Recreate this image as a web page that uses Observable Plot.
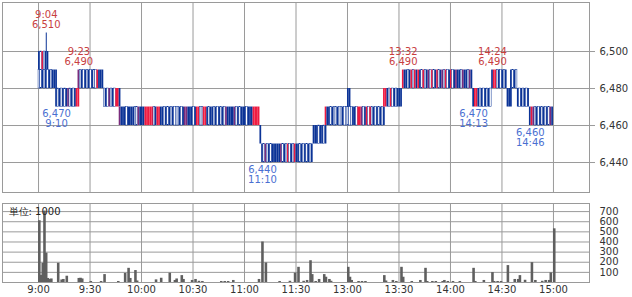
<!DOCTYPE html>
<html><head><meta charset="utf-8">
<script src="https://cdn.jsdelivr.net/npm/d3@7"></script>
<script src="https://cdn.jsdelivr.net/npm/@observablehq/plot@0.6"></script>
<style>
body{margin:0;background:#fff;font-family:"DejaVu Sans",sans-serif;}
#chart svg{display:block;}
</style></head><body><div id="chart"></div>
<script>
// x = trading minutes since 9:00 (lunch break 11:30-12:30 removed)
const tickMinutes = [0, 30, 60, 90, 120, 150, 180, 210, 240, 270, 300];
const tickLabels = ["9:00", "9:30", "10:00", "10:30", "11:00", "11:30", "13:00", "13:30", "14:00", "14:30", "15:00"];
const priceTicks = [6440, 6460, 6480, 6500];
const volTicks = [100, 200, 300, 400, 500, 600, 700];

// price cells: segment start minute, 10-yen band low, one colour code per minute
// b = blue, r = red, p = purple, w = white (outlined)
const segStart = [0, 0, 10, 23, 38, 47, 129, 130, 160, 167, 180, 201, 212, 253, 264, 273, 275, 279, 286];
const segBand  = [6490, 6480, 6470, 6480, 6470, 6460, 6450, 6440, 6450, 6460, 6470, 6470, 6480, 6470, 6480, 6470, 6480, 6470, 6460];
const segColors = [
  "bwrwbb",
  "wwbwbwbwbbb",
  "bwbwbwbpwbwbrr",
  "pwbwbwbwbwwrbbb",
  "wbwpwbwrrb",
  "pbbbwbbbbwwpbbbrrrrrwbrrbbwbwbwbwwwbwbppbbbwbrrwwrrbwbb" + "wbwbwbwpbbbbpwbwbbbwbbbrrrr",
  "b",
  "bwpwbwbbbbbpwbwrwbwrbbwbwbwbwb",
  "bbbwbbwb",
  "rbbwbwwbwwbwwwwwbbwrrpwbrwrwbwbwbwb",
  "bb",
  "rrbwrwbwbbb",
  "rbbwbrwrbrbwrwbpwrwbrwbpwrwbrwbpbbwpbbwpb",
  "brrbwbwbwbw",
  "brrwbwbwb",
  "bbb",
  "bwbw",
  "bwbwbwb",
  "brpwbwbwbwbwpb"
];

const wickMin = [4], wickLow = [6500], wickHigh = [6510];

const highMin = [4, 23, 212, 264];
const highTime = ["9:04", "9:23", "13:32", "14:24"];
const highPrice = [6510, 6490, 6490, 6490];
const lowMin = [10, 130, 253, 286];
const lowTime = ["9:10", "11:10", "14:13", "14:46"];
const lowPrice = [6470, 6440, 6470, 6460];

// volume (unit: 1000 shares) per minute
const volMin = [0,1,2,3,4,5,6,7,11,13,14,16,23,24,25,30,36,38,46,50,52,53,56,57,68,71,76,79,80,83,84,89,91,93,95,106,108,110,113,128,130,132,140,146,149,151,154,156,158,159,161,163,166,167,169,170,180,181,182,186,188,190,201,202,206,208,211,212,217,222,225,226,229,231,235,236,238,241,245,253,254,259,264,265,267,269,273,277,279,280,283,287,289,293,295,297,298,300];
const volVal = [610,70,190,705,290,40,30,35,190,25,30,62,40,42,35,10,10,78,10,90,140,40,118,15,26,42,92,20,35,68,30,20,30,12,10,10,10,10,20,30,400,193,10,12,92,150,12,20,215,78,10,30,78,52,30,12,150,52,20,10,10,10,68,15,20,10,150,52,10,20,140,10,10,10,10,20,10,10,10,140,10,20,98,10,10,10,167,30,30,68,22,196,20,12,20,20,95,530];

const colorMap = {b: "#0b3396", r: "#ee1a40", p: "#7a2c7c", w: "#ffffff"};
const BLUE = "#0b3396";

const cells = [];
segStart.forEach((s, i) => {
  [...segColors[i]].forEach((c, k) => cells.push({m: s + k, lo: segBand[i], c}));
});
const wicks = wickMin.map((m, i) => ({m, lo: wickLow[i], hi: wickHigh[i]}));
const highs = highMin.map((m, i) => ({m, t: highTime[i], p: highPrice[i]}));
const lows = lowMin.map((m, i) => ({m, t: lowTime[i], p: lowPrice[i]}));
const vols = volMin.map((m, i) => ({m, v: volVal[i]}));
const fmt = d3.format(",");
const xDomain = [-21, 321];
const GRID = "#9a9a9a";

const pricePanel = Plot.plot({
  width: 632, height: 196,
  marginLeft: 2, marginRight: 43, marginTop: 2, marginBottom: 4,
  style: {fontFamily: "DejaVu Sans, sans-serif", fontSize: "10px", background: "#fff"},
  x: {domain: xDomain, axis: null},
  y: {domain: [6423.8, 6526.5], axis: null},
  marks: [
    Plot.gridX(tickMinutes, {stroke: GRID, strokeOpacity: 1}),
    Plot.gridY(priceTicks, {stroke: GRID, strokeOpacity: 1}),
    Plot.rect(cells, {
      x1: "m", x2: d => d.m + 1, y1: "lo", y2: d => d.lo + 10,
      fill: d => colorMap[d.c],
      stroke: d => d.c === "w" ? BLUE : "none", strokeWidth: 0.5
    }),
    Plot.ruleX(wicks, {x: d => d.m + 0.5, y1: "lo", y2: "hi", stroke: BLUE, strokeWidth: 1}),
    Plot.text(highs, {x: d => d.m + 0.5, y: "p", text: d => d.t + "\n" + fmt(d.p),
      lineAnchor: "bottom", dy: -5, fill: "#c8403f", fontSize: 10}),
    Plot.text(lows, {x: d => d.m + 0.5, y: "p", text: d => fmt(d.p) + "\n" + d.t,
      lineAnchor: "top", dy: 3, fill: "#4a6fd1", fontSize: 10}),
    Plot.frame({stroke: GRID}),
    Plot.axisY(priceTicks, {anchor: "right", tickSize: 5, tickPadding: 5, tickFormat: fmt,
      label: null, stroke: GRID, color: "#333", fontSize: 10})
  ]
});

const volumePanel = Plot.plot({
  width: 632, height: 101,
  marginLeft: 2, marginRight: 43, marginTop: 7, marginBottom: 15,
  style: {fontFamily: "DejaVu Sans, sans-serif", fontSize: "10px", background: "#fff"},
  x: {domain: xDomain, axis: null},
  y: {domain: [0, 780], axis: null},
  marks: [
    Plot.gridX(tickMinutes, {stroke: GRID, strokeOpacity: 1}),
    Plot.gridY(volTicks, {stroke: GRID, strokeOpacity: 1}),
    Plot.rect(vols, {x1: "m", x2: d => d.m + 1.5, y1: 0, y2: "v", fill: "#5f5f5f"}),
    Plot.frame({stroke: GRID}),
    Plot.text(["単位: 1000"], {frameAnchor: "top-left", dx: 6, dy: 8, lineAnchor: "middle",
      textAnchor: "start", fill: "#222", fontSize: 10}),
    Plot.axisY(volTicks, {anchor: "right", tickSize: 0, tickPadding: 10, label: null,
      color: "#333", fontSize: 10}),
    Plot.axisX(tickMinutes, {anchor: "bottom", tickSize: 0, tickPadding: 3, label: null,
      tickFormat: (d, i) => tickLabels[i], color: "#333", fontSize: 10})
  ]
});

document.getElementById("chart").append(pricePanel, volumePanel);
</script></body></html>
